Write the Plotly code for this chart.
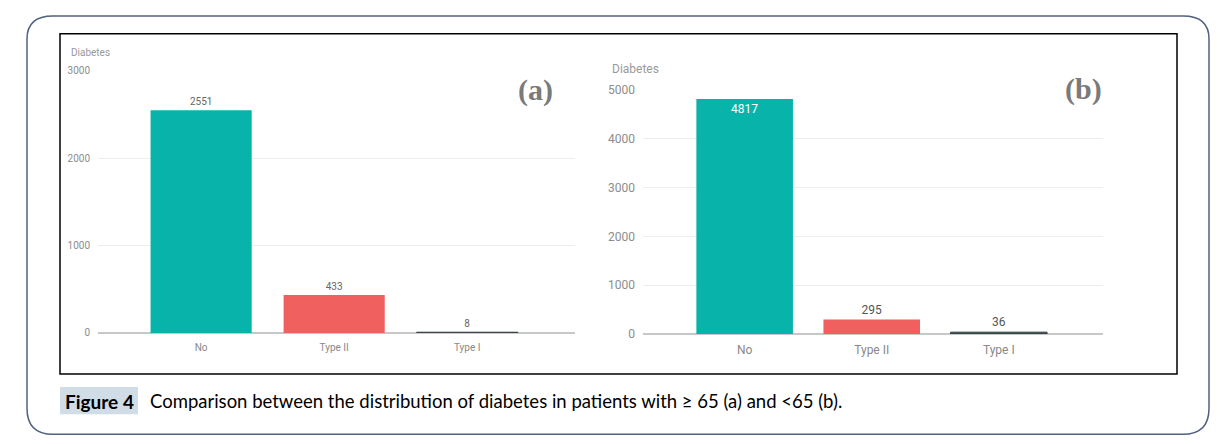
import plotly.graph_objects as go

# ---- data ----
categories = ["No", "Type II", "Type I"]
counts_65_plus = [2551, 433, 8]
counts_under_65 = [4817, 295, 36]
bar_colors = ["#08B4AA", "#F0605E", "#374649"]
axis_title = "Diabetes"
ticks_a = [0, 1000, 2000, 3000]
ticks_b = [0, 1000, 2000, 3000, 4000, 5000]
caption_tag = "Figure 4"
caption_text = "Comparison between the distribution of diabetes in patients with \u2265 65 (a) and <65 (b)."

W, H = 1223, 444
OFF = 8  # page body margin
def px(x):
    return (x - OFF) / W
def py(y):
    c = (y - 7.5) / 0.965 - OFF
    c = max(c, 1.0)
    return 1 - c / H

FONT = "Roboto"
fig = go.Figure()

fig.add_trace(go.Bar(
    x=categories, y=counts_65_plus, xaxis="x", yaxis="y",
    marker=dict(color=bar_colors, line=dict(color=bar_colors, width=[0, 0, 1])),
    text=[str(v) for v in counts_65_plus], textposition="outside",
    outsidetextfont=dict(family=FONT, size=10, color="#666666"),
    cliponaxis=False, showlegend=False, hoverinfo="x+y",
))
fig.add_trace(go.Bar(
    x=categories, y=counts_under_65, xaxis="x2", yaxis="y2",
    marker=dict(color=bar_colors, line=dict(color=bar_colors, width=[0, 0, 1])),
    text=[str(v) for v in counts_under_65],
    textposition=["inside", "outside", "outside"], insidetextanchor="end",
    insidetextfont=dict(family=FONT, size=12, color="#FFFFFF"),
    outsidetextfont=dict(family=FONT, size=12, color="#555555"),
    textangle=0, cliponaxis=False, showlegend=False, hoverinfo="x+y",
))

common_x = dict(showgrid=False, zeroline=False, showline=False, ticks="",
                ticklabelstandoff=7)
common_y = dict(showgrid=True, gridcolor="#EDEDED", gridwidth=1, zeroline=True,
                zerolinecolor="#C8C8C8", zerolinewidth=2, showline=False, ticks="",
                ticklabelstandoff=7)

fig.update_layout(
    width=W, height=H, margin=dict(l=0, r=0, t=0, b=0),
    paper_bgcolor="white", plot_bgcolor="white", bargap=0.24,
    xaxis=dict(common_x, domain=[px(98), px(575)], range=[-0.775, 2.81],
               tickfont=dict(family=FONT, size=10, color="#888888")),
    yaxis=dict(common_y, domain=[py(332), py(71)], range=[0, 3000], tickvals=ticks_a,
               tickfont=dict(family=FONT, size=10, color="#8C8C8C")),
    xaxis2=dict(common_x, domain=[px(643), px(1103)], range=[-0.8, 2.82], anchor="y2",
                tickfont=dict(family=FONT, size=12, color="#888888")),
    yaxis2=dict(common_y, domain=[py(333), py(90)], range=[0, 5000], tickvals=ticks_b,
                anchor="x2", tickfont=dict(family=FONT, size=12, color="#8C8C8C")),
)

# outer rounded border
l, t, r, b, rad = 27, 13, 1209, 433, 26
path = (f"M {px(l+rad)},{py(t)} L {px(r-rad)},{py(t)} Q {px(r)},{py(t)} {px(r)},{py(t+rad)} "
        f"L {px(r)},{py(b-rad)} Q {px(r)},{py(b)} {px(r-rad)},{py(b)} "
        f"L {px(l+rad)},{py(b)} Q {px(l)},{py(b)} {px(l)},{py(b-rad)} "
        f"L {px(l)},{py(t+rad)} Q {px(l)},{py(t)} {px(l+rad)},{py(t)} Z")
fig.add_shape(type="path", path=path, xref="paper", yref="paper",
              line=dict(color="#51617F", width=1.5), layer="below")
# inner black frame
fig.add_shape(type="rect", xref="paper", yref="paper", x0=px(60), x1=px(1177),
              y0=py(373), y1=py(34), line=dict(color="black", width=1.5))
# caption tag box
fig.add_shape(type="rect", xref="paper", yref="paper", x0=px(60), x1=px(138),
              y0=py(413), y1=py(386), fillcolor="#D0DCE6", line=dict(width=0), layer="below")

ann = []
ann.append(dict(text=axis_title, x=px(69), y=py(53), xanchor="left", yanchor="middle",
                font=dict(family=FONT, size=10, color="#9A9A9A")))
ann.append(dict(text=axis_title, x=px(610), y=py(69), xanchor="left", yanchor="middle",
                font=dict(family=FONT, size=12, color="#9A9A9A")))
ann.append(dict(text="<b>(a)</b>", x=px(535), y=py(90), xanchor="center", yanchor="middle",
                font=dict(family="Liberation Serif", size=30, color="#7A7A7A")))
ann.append(dict(text="<b>(b)</b>", x=px(1083), y=py(89), xanchor="center", yanchor="middle",
                font=dict(family="Liberation Serif", size=30, color="#7A7A7A"), bgcolor="white"))
ann.append(dict(text=f"<b>{caption_tag}</b>", x=px(99), y=py(400), xanchor="center", yanchor="middle",
                font=dict(family="Lato", size=19, color="black")))
ann.append(dict(text=caption_text, x=px(148), y=py(400), xanchor="left", yanchor="middle",
                font=dict(family="Lato", size=18.5, color="black")))
for a in ann:
    a.update(xref="paper", yref="paper", showarrow=False)
fig.update_layout(annotations=ann)

fig.write_html("out.html")
